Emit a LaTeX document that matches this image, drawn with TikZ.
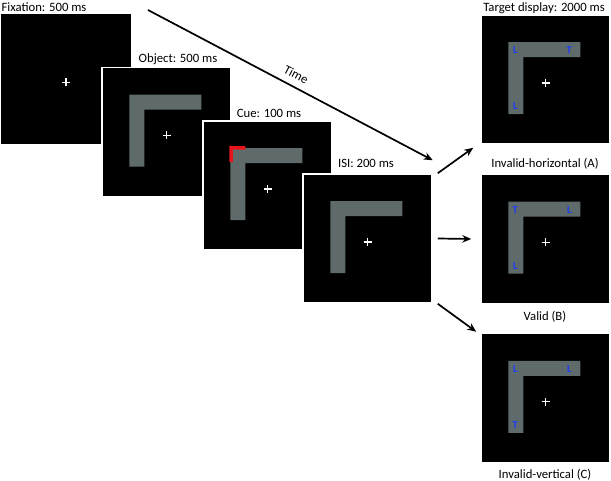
\documentclass[tikz,border=0pt]{standalone}
\usepackage{fontspec}
\setmainfont{Carlito}
\usetikzlibrary{arrows.meta,calc}
\definecolor{objGray}{HTML}{5F6B6B}
\definecolor{cueRed}{HTML}{E8141C}
\definecolor{tgtBlue}{HTML}{1A3CFF}
\newcommand{\labelfont}{\fontsize{12.7}{14}\selectfont}
\newcommand{\letterfont}{\bfseries\fontsize{10.5}{11}\selectfont}
\tikzset{
  screen/.style={draw=white,line width=1.5pt,fill=black,
                 minimum size=129pt,inner sep=0pt},
  lbl/.style={font=\labelfont,inner sep=0pt},
  tgt/.style={text=tgtBlue,font=\letterfont,inner sep=0pt},
  arr/.style={-{Stealth[length=9pt,width=7.5pt]},line width=1.7pt},
  ell/.pic={
    \fill[objGray] (28,28) -- (100,28) -- (100,43) -- (43,43)
                   -- (43,100) -- (28,100) -- cycle;
  },
  cuemark/.pic={
    \fill[cueRed] (27,26) -- (43,26) -- (43,29.5) -- (30.5,29.5)
                  -- (30.5,42) -- (27,42) -- cycle;
  },
  fixcross/.pic={
    \draw[white,line width=1.4pt] (-4,0) -- (4,0) (0,-4) -- (0,4);
  }
}

\begin{document}
\begin{tikzpicture}[x=1pt,y=-1pt]
  \useasboundingbox[fill=white] (0,0) rectangle (611,481);

  % the trial sequence
  \node[screen,minimum size=132pt] (fix) at (66,79) {};
  \pic at ([yshift=-3.5pt]fix.center) {fixcross};
  \node[lbl] (fixlbl) at (44,7) {Fixation: 500 ms};

  \node[screen] (obj) at (166.5,132) {};
  \pic at (obj.north west) {ell};
  \pic at ([yshift=-3.5pt]obj.center) {fixcross};
  \node[lbl] (objlbl) at (178,59) {Object: 500 ms};

  \node[screen] (cue) at (267.5,185.5) {};
  \pic at (cue.north west) {ell};
  \pic at (cue.north west) {cuemark};
  \pic at ([yshift=-3.5pt]cue.center) {fixcross};
  \node[lbl] (cuelbl) at (269,113) {Cue: 100 ms};

  \node[screen] (isi) at (367.5,238.5) {};
  \pic at (isi.north west) {ell};
  \pic at ([yshift=-3.5pt]isi.center) {fixcross};
  \node[lbl] (isilbl) at (366,163) {ISI: 200 ms};

  % target displays
  \foreach \n/\yy/\ca/\cb/\cc in {tA/79.5/L/T/L, tB/239/T/L/L, tC/398/L/L/T}{
    \node[screen] (\n) at (545.5,\yy) {};
    \pic at (\n.north west) {ell};
    \pic at ([yshift=-3.5pt]\n.center) {fixcross};
    \node[tgt] (\n corner) at ($(\n.north west)+(35,36)$) {\ca};
    \node[tgt] (\n right) at ($(\n.north west)+(89,36)$) {\cb};
    \node[tgt] (\n bottom) at ($(\n.north west)+(35,92)$) {\cc};
  }
  \node[lbl] (tgtlbl) at (544,8) {Target display: 2000 ms};
  \node[lbl] (tAlbl) at (545,164) {Invalid-horizontal (A)};
  \node[lbl] (tBlbl) at (545,317) {Valid (B)};
  \node[lbl] (tClbl) at (545,475) {Invalid-vertical (C)};

  % arrows
  \coordinate (tstart) at (148,10);
  \draw[arr] (tstart) -- ([yshift=13pt]isi.north east)
    node[lbl,midway,above=7pt,sloped] (timelbl) {Time};
  \draw[arr] ([xshift=5pt]isi.north east) -- ([xshift=-7pt,yshift=-3pt]tA.south west);
  \draw[arr] ([xshift=5pt]isi.east) -- ([xshift=-9pt]tB.west);
  \draw[arr] ([xshift=5pt]isi.south east) -- ([xshift=-4pt,yshift=1pt]tC.north west);
\end{tikzpicture}
\end{document}
